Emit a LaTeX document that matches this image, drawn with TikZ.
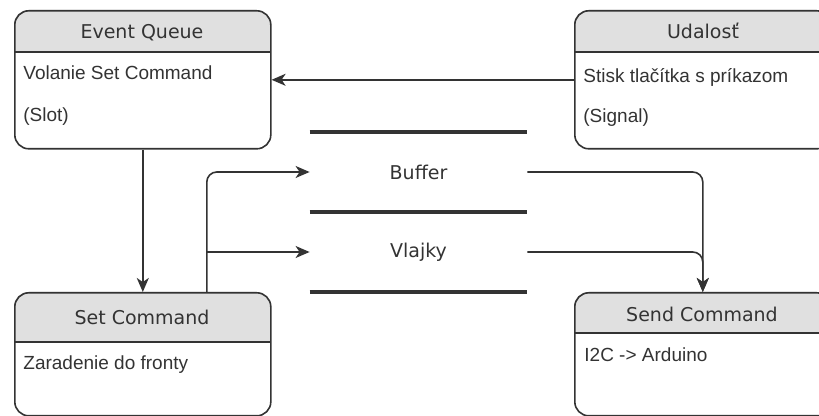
\documentclass[tikz,border=0pt]{standalone}
\usepackage{fontspec}
\setmainfont{Liberation Sans}
\newfontfamily\headfont{DejaVu Sans}
\usetikzlibrary{positioning, arrows.meta, calc}
\definecolor{headgray}{HTML}{E0E0E0}
\definecolor{inkgray}{HTML}{333333}

\begin{document}
\begin{tikzpicture}[
        x=0.5pt, y=-0.5pt,
        box/.style={draw=inkgray, line width=0.8pt, rounded corners=7pt, minimum width=128pt, inner sep=0pt, anchor=north west},
        headfill/.style={fill=headgray, rounded corners=7pt},
        split/.style={draw=inkgray, line width=0.8pt},
        title/.style={font=\headfont\fontsize{9.5}{11}\selectfont, text=inkgray, inner sep=0pt, anchor=base},
        body/.style={font=\fontsize{9.5}{11}\selectfont, text=inkgray, inner sep=0pt, anchor=base west},
        store/.style={font=\headfont\fontsize{9.5}{11}\selectfont, text=inkgray, minimum width=108.5pt, minimum height=40pt, inner sep=0pt},
        bar/.style={draw=inkgray, line width=2pt},
        conn/.style={-{Stealth[length=7pt, width=6pt, inset=2pt]}, draw=inkgray, line width=0.8pt}
    ]

    \clip (0,0) rectangle (819,416);

    % Header fills
    \fill[headfill] (14,52) -- (14,10) -- (270,10) -- (270,52);
    \fill[headfill] (574,52) -- (574,10) -- (830,10) -- (830,52);
    \fill[headfill] (14,342) -- (14,292) -- (270,292) -- (270,342);
    \fill[headfill] (574,333) -- (574,292) -- (830,292) -- (830,333);

    % Boxes
    \node[box, minimum height=69pt] (eq) at (14,10) {};
    \node[box, minimum height=69pt] (ud) at (574,10) {};
    \node[box, minimum height=61.5pt] (sc) at (14,292) {};
    \node[box, minimum height=61.5pt] (sendc) at (574,292) {};

    \draw[split] (14,52) -- (270,52);
    \draw[split] (574,52) -- (830,52);
    \draw[split] (14,342) -- (270,342);
    \draw[split] (574,333) -- (830,333);

    % Titles
    \node[title] (eqt) at (142,39) {Event Queue};
    \node[title] (udt) at (703,39) {Udalosť};
    \node[title] (sct) at (142,325) {Set Command};
    \node[title] (sendt) at (702,322) {Send Command};

    % Contents
    \node[body] (eqa) at (23,80) {Volanie Set Command};
    \node[body] (eqb) at (23,122) {(Slot)};
    \node[body] (uda) at (583,83) {Stisk tlačítka s príkazom};
    \node[body] (udb) at (583,123) {(Signal)};
    \node[body] (sca) at (23,370) {Zaradenie do fronty};
    \node[body] (senda) at (584,362) {I2C -> Arduino};

    % Data stores
    \node[store] (buf) at (418.5,172) {Buffer};
    \node[store] (vl) at (418.5,252) {Vlajky};
    \draw[bar] (buf.north west) -- (buf.north east);
    \draw[bar] (buf.south west) -- (buf.south east);
    \draw[bar] (vl.south west) -- (vl.south east);

    % Edges
    \draw[conn] (ud) -- (eq);
    \draw[conn] (eq) -- (sc);

    \coordinate (fork) at ([xshift=32pt]sc.north |- vl.west);
    \draw[conn, rounded corners=5pt] ([xshift=32pt]sc.north) |- (buf.west);
    \draw[conn] (fork) -- (vl.west);

    \draw[conn, rounded corners=5pt] (buf.east) -| (sendc.north);
    \draw[conn, rounded corners=5pt] (vl.east) -| (sendc.north);

\end{tikzpicture}
\end{document}
